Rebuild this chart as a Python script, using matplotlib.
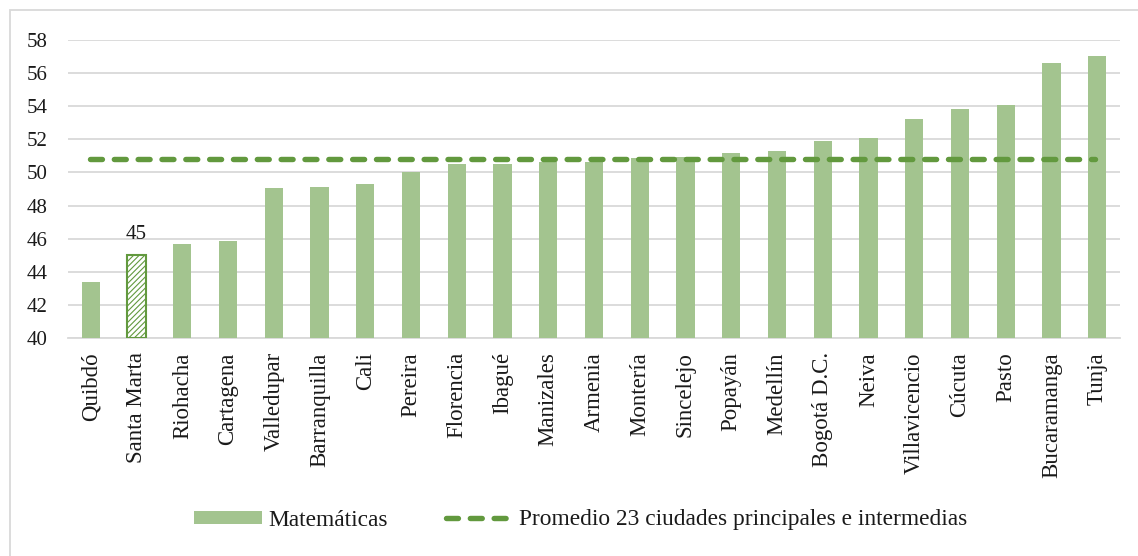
import matplotlib
matplotlib.use("Agg")
import matplotlib.pyplot as plt
from matplotlib.patches import Rectangle, Patch
from matplotlib.lines import Line2D

plt.rcParams['font.family'] = ['Liberation Serif', 'DejaVu Serif']
plt.rcParams['hatch.linewidth'] = 0.8

cities = ["Quibdó", "Santa Marta", "Riohacha", "Cartagena", "Valledupar", "Barranquilla",
          "Cali", "Pereira", "Florencia", "Ibagué", "Manizales", "Armenia", "Montería",
          "Sincelejo", "Popayán", "Medellín", "Bogotá D.C.", "Neiva", "Villavicencio",
          "Cúcuta", "Pasto", "Bucaramanga", "Tunja"]
matematicas = [43.4, 45.05, 45.7, 45.85, 49.05, 49.1, 49.3, 50.0, 50.5, 50.5, 50.6, 50.6,
               50.85, 50.9, 51.2, 51.3, 51.9, 52.1, 53.2, 53.8, 54.05, 56.6, 57.0]
promedio = 50.8
highlight = "Santa Marta"
yticks = [40, 42, 44, 46, 48, 50, 52, 54, 56, 58]

bar_color = "#A3C48F"
line_color = "#62993E"
text_color = "#1a1a1a"
dash_style = (0, (2.2, 2.2))
dash_lw = 3.9

fig = plt.figure(figsize=(11.38, 5.56), dpi=100)
ax = fig.add_axes([68/1138, 1-338.3/556, (1120-68)/1138, (338.3-39.7)/556])

x = list(range(len(cities)))
for i, (c, v) in enumerate(zip(cities, matematicas)):
    if c == highlight:
        ax.bar(i, v - 40, bottom=40, width=0.4, color="white", edgecolor=line_color,
               hatch="//////", linewidth=1.5, zorder=3)
        ax.text(i, v + 0.65, f"{round(v)}", ha="center", va="bottom", fontsize=15,
                color=text_color)
    else:
        ax.bar(i, v - 40, bottom=40, width=0.4, color=bar_color, edgecolor="none", zorder=3)

ax.plot([x[0] - 0.02, x[-1] - 0.05], [promedio, promedio], color=line_color, lw=dash_lw,
        linestyle=dash_style, dash_capstyle="round", zorder=4)

ax.set_xlim(-0.5, len(cities) - 0.5)
ax.set_ylim(40, 58)
ax.set_yticks(yticks)
ax.set_yticklabels([str(t) for t in yticks], fontsize=15, color=text_color)
ax.set_xticks(x)
ax.set_xticklabels(cities, rotation=90, fontsize=16.5, color=text_color)
ax.tick_params(length=0)
ax.tick_params(axis='x', pad=10)
ax.tick_params(axis='y', pad=30)
for lab in ax.get_yticklabels():
    lab.set_horizontalalignment('left')
ax.grid(axis='y', color="#D9D9D9", lw=1.3, zorder=0)
ax.set_axisbelow(True)
for s in ["top", "right", "left"]:
    ax.spines[s].set_visible(False)
ax.spines["bottom"].set_color("#D9D9D9")
ax.spines["bottom"].set_linewidth(1.3)

handles = [Patch(facecolor=bar_color, edgecolor="none"),
           Line2D([0], [0], color=line_color, lw=dash_lw, linestyle=dash_style,
                  dash_capstyle="round")]
labels = ["Matemáticas", "Promedio 23 ciudades principales e intermedias"]
fig.legend(handles, labels, loc="center", bbox_to_anchor=(581/1138, 1-520/556), ncol=2,
           frameon=False, fontsize=16.8, handlelength=2.9, handleheight=0.5,
           columnspacing=2.5, handletextpad=0.25, labelcolor=text_color)

# outer border
fig.add_artist(Rectangle((10/1138, -0.05), 1.2, 1-10/556+0.05, transform=fig.transFigure,
                         fill=False, edgecolor="#D9D9D9", lw=1.3))

fig.savefig("out.png", dpi=100, facecolor="white")
